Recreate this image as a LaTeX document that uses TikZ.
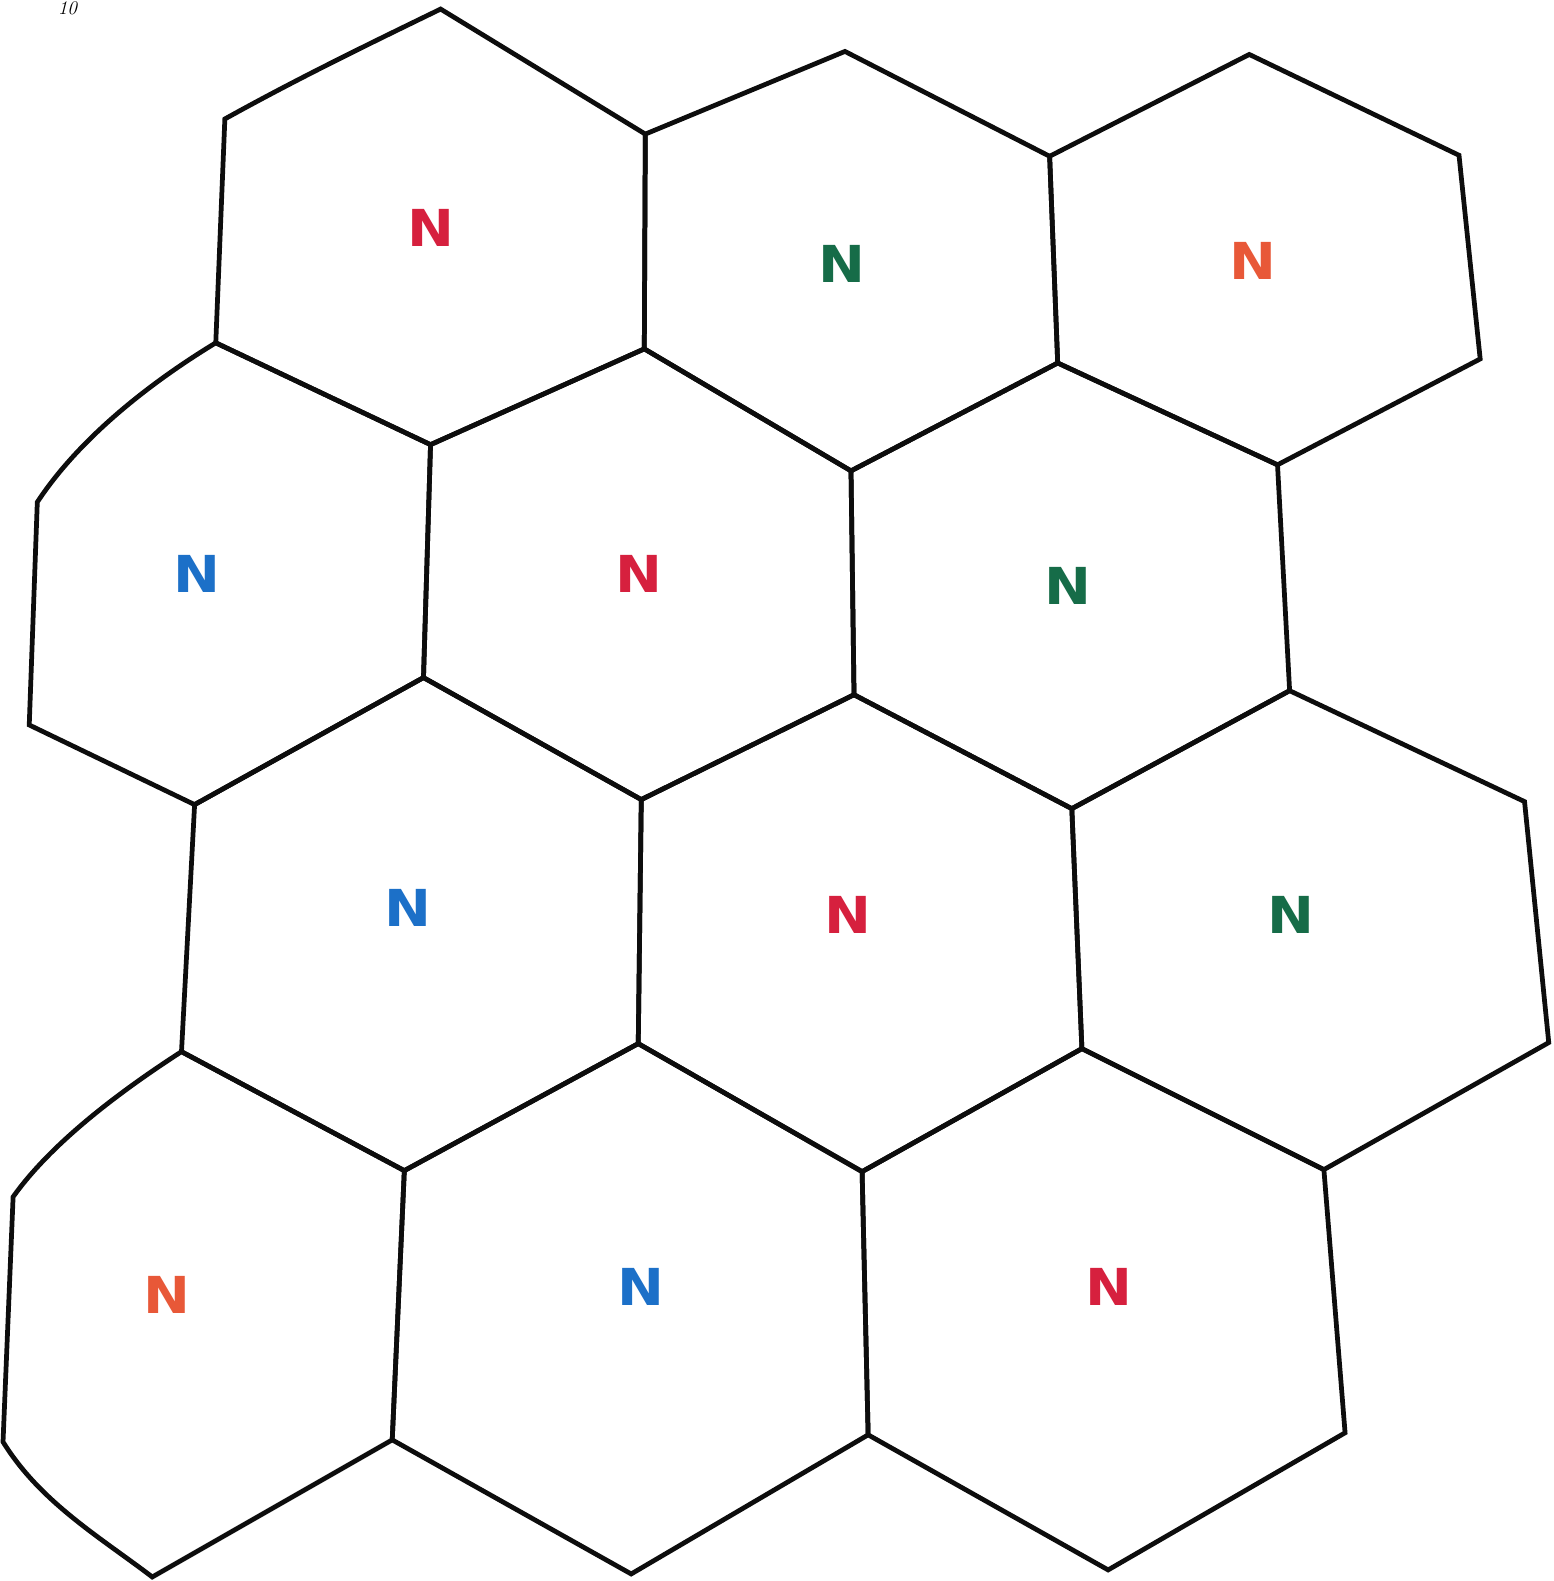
\documentclass[tikz,border=0pt]{standalone}
\usepackage{fontspec}
\newfontfamily\letterfont{DejaVu Sans}[BoldFont={DejaVu Sans Bold}]
\definecolor{nred}{RGB}{214,32,62}
\definecolor{ngreen}{RGB}{22,108,72}
\definecolor{norange}{RGB}{232,88,56}
\definecolor{nblue}{RGB}{28,112,200}
\begin{document}
\begin{tikzpicture}[x=0.020168cm,y=-0.020168cm,
  cell/.style={draw=black!95,line width=2.7pt,line join=miter},
  mark letter/.style={font=\letterfont\bfseries\fontsize{29}{29}\selectfont,inner sep=0pt,xscale=1.1}]
\useasboundingbox[fill=white] (0,0) rectangle (1541,1568);
% vertices
\coordinate (a1) at (223,118); \coordinate (a2) at (437,9);
\coordinate (a3) at (640,133); \coordinate (a4) at (639,346);
\coordinate (a5) at (427,441); \coordinate (a6) at (214,340);
\coordinate (b2) at (838,51);  \coordinate (b3) at (1041,155);
\coordinate (b4) at (1049,360); \coordinate (b5) at (844,467);
\coordinate (c2) at (1239,54); \coordinate (c3) at (1447,154);
\coordinate (c4) at (1468,356); \coordinate (c5) at (1267,461);
\coordinate (d1) at (37,498); \coordinate (d2) at (29,719);
\coordinate (d3) at (193,798); \coordinate (d4) at (420,672);
\coordinate (e4) at (847,689); \coordinate (e5) at (636,793);
\coordinate (f4) at (1279,685); \coordinate (f5) at (1063,802);
\coordinate (g4) at (633,1035); \coordinate (g5) at (401,1161);
\coordinate (g6) at (180,1043);
\coordinate (h4) at (1073,1040); \coordinate (h5) at (855,1162);
\coordinate (i3) at (1512,795); \coordinate (i4) at (1536,1034);
\coordinate (i5) at (1313,1160);
\coordinate (j1) at (13,1187); \coordinate (j2) at (3,1430);
\coordinate (j3) at (151,1564); \coordinate (j4) at (389,1428);
\coordinate (k4) at (861,1423); \coordinate (k5) at (626,1561);
\coordinate (l4) at (1334,1421); \coordinate (l5) at (1099,1557);
% cells
\draw[cell] (a1) .. controls (295,78) and (365,44) .. (a2) -- (a3) -- (a4) -- (a5) -- (a6) -- cycle;
\draw[cell] (a3) -- (b2) -- (b3) -- (b4) -- (b5) -- (a4) -- cycle;
\draw[cell] (b3) -- (c2) -- (c3) -- (c4) -- (c5) -- (b4) -- cycle;
\draw[cell] (a6) .. controls (140,385) and (75,440) .. (d1) -- (d2) -- (d3) -- (d4) -- (a5) -- cycle;
\draw[cell] (a5) -- (a4) -- (b5) -- (e4) -- (e5) -- (d4) -- cycle;
\draw[cell] (b5) -- (b4) -- (c5) -- (f4) -- (f5) -- (e4) -- cycle;
\draw[cell] (d3) -- (d4) -- (e5) -- (g4) -- (g5) -- (g6) -- cycle;
\draw[cell] (e5) -- (e4) -- (f5) -- (h4) -- (h5) -- (g4) -- cycle;
\draw[cell] (f5) -- (f4) -- (i3) -- (i4) -- (i5) -- (h4) -- cycle;
\draw[cell] (g6) .. controls (115,1085) and (50,1135) .. (j1) -- (j2) .. controls (40,1490) and (100,1525) .. (j3) -- (j4) -- (g5) -- cycle;
\draw[cell] (g5) -- (g4) -- (h5) -- (k4) -- (k5) -- (j4) -- cycle;
\draw[cell] (h5) -- (h4) -- (i5) -- (l4) -- (l5) -- (k4) -- cycle;
% letters
\node[mark letter,text=nred]    (na) at (427,226)  {N};
\node[mark letter,text=ngreen]  (nb) at (835,262)  {N};
\node[mark letter,text=norange] (nc) at (1243,259) {N};
\node[mark letter,text=nblue]   (nd) at (195,569)  {N};
\node[mark letter,text=nred]    (ne) at (634,569)  {N};
\node[mark letter,text=ngreen]  (nf) at (1059,581) {N};
\node[mark letter,text=nblue]   (ng) at (405,900)  {N};
\node[mark letter,text=nred]    (nh) at (841,907)  {N};
\node[mark letter,text=ngreen]  (ni) at (1280,907) {N};
\node[mark letter,text=norange] (nj) at (166,1284) {N};
\node[mark letter,text=nblue]   (nk) at (636,1276) {N};
\node[mark letter,text=nred]    (nl) at (1100,1276) {N};
% handwritten fragment at top
\node[anchor=north west,inner sep=0pt,font=\itshape\fontsize{11}{11}\selectfont] (frag) at (57,1) {10};
\end{tikzpicture}
\end{document}
